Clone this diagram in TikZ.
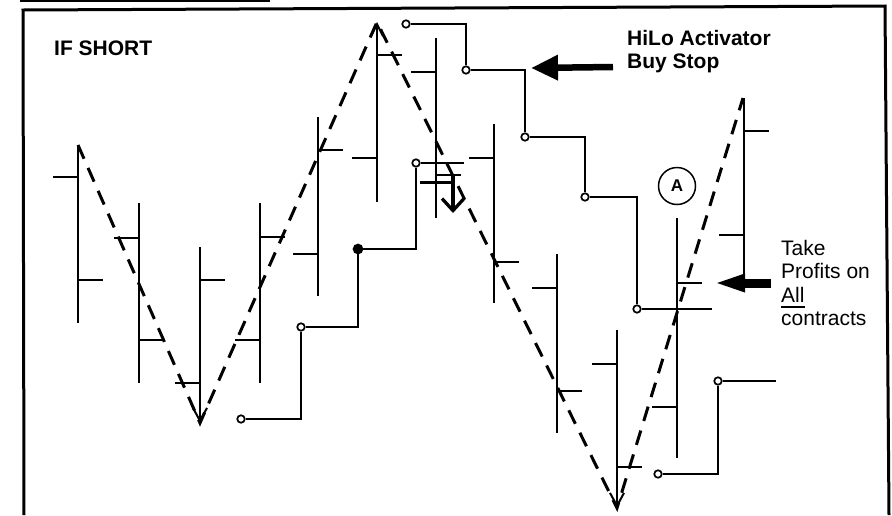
\documentclass[tikz,border=0pt]{standalone}
\usepackage{fontspec}
\setmainfont{Liberation Sans}
\usetikzlibrary{arrows.meta}
\begin{document}
\begin{tikzpicture}[x=1pt,y=-1pt,
  framel/.style={line width=3pt},
  barline/.style={line width=2pt},
  tickline/.style={line width=1.4pt},
  zz/.style={line width=3pt, dash pattern=on 15pt off 10pt},
  stairline/.style={line width=1.1pt},
  stopdot/.style={circle, draw, line width=1.7pt, fill=white, inner sep=0pt, minimum size=7.5pt},
  stopfill/.style={circle, draw, line width=1.6pt, fill=black, inner sep=0pt, minimum size=9pt},
  lbl/.style={inner sep=0pt, anchor=base west, font=\fontsize{21}{23.5}\selectfont},
  blbl/.style={lbl, font=\bfseries\fontsize{21}{23.5}\selectfont},
  downtip/.style={-{Straight Barb[length=13pt,width=14pt]}},
  uptip/.style={{Straight Barb[length=12pt,width=12pt]}-},
  notip/.style={},
  bigarrow/.style={-{Triangle[length=27pt,width=24pt]}, line width=6.5pt},
  profitarrow/.style={-{Triangle[length=32pt,width=16pt]}, line width=9pt}
]
\useasboundingbox (0,0) rectangle (892,515);
% frame
\draw[line width=1.5pt] (20,1) -- (270,1);
\draw[framel] (24,515) -- (23,10) -- (885,6) -- (889,515);

% price bars: x / top / bottom / left tick / right tick / tip
\foreach \bx/\bt/\bb/\bl/\br/\tp in {
  78/145/323/177/280/notip,
  139/203/383/238/340/notip,
  200/247/423/383/280/downtip,
  260/203/383/340/237/notip,
  318/117/296/254/150/notip,
  377/22/202/158/55/uptip,
  436/38/218/72/175/notip,
  494/124/303/158/262/notip,
  557/254/433/288/391/notip,
  617/330/508/364/467/downtip,
  677/218/458/407/283/notip,
  744/98/279/235/131/notip}{
  \draw[barline,\tp] (\bx,\bt) -- (\bx,\bb);
  \draw[tickline] (\bx-25,\bl) -- (\bx,\bl);
  \draw[tickline] (\bx,\br) -- (\bx+25,\br);
}

% dashed swing line
\draw[zz] (78,145) -- (200,423) -- (377,22) -- (617,508) -- (743,98);

% entry marker
\draw[line width=3pt] (420,182) -- (452,182);
\draw[line width=3.3pt,-{Straight Barb[length=12pt,width=22pt]}] (453,176) -- (453,213);

% HiLo buy stop (descending)
\node[stopdot] (s1) at (406,24) {};
\node[stopdot] (s2) at (466,70) {};
\node[stopdot] (s3) at (525,137) {};
\node[stopdot] (s4) at (585,197) {};
\node[stopdot] (s5) at (637,309) {};
\coordinate (s6) at (712,309);
\draw[stairline] (s1) -| (s2);
\draw[stairline] (s2) -| (s3);
\draw[stairline] (s3) -| (s4);
\draw[stairline] (s4) -| (s5);
\draw[stairline] (s5) -- (s6);

% rising stop (left)
\node[stopdot] (l1) at (241,419) {};
\node[stopdot] (l2) at (301,327) {};
\node[stopfill] (l3) at (358,249) {};
\node[stopdot] (l4) at (416,163) {};
\coordinate (l5) at (464,163);
\draw[stairline] (l1) -| (l2);
\draw[stairline] (l2) -| (l3);
\draw[stairline] (l3) -| (l4);
\draw[stairline] (l4) -- (l5);

% rising stop (right)
\node[stopdot] (r1) at (658,474) {};
\node[stopdot] (r2) at (718,381) {};
\coordinate (r3) at (776,381);
\draw[stairline] (r1) -| (r2);
\draw[stairline] (r2) -- (r3);

% labels
\node[blbl] (ifshort) at (54,55) {IF SHORT};
\node[blbl] (hilo) at (627,45) {HiLo Activator};
\node[blbl] (buystop) at (627,68) {Buy Stop};
\node[lbl] (take) at (781,255) {Take};
\node[lbl] (profits) at (781,278) {Profits on};
\node[lbl] (allc) at (781,302) {All};
\node[lbl] (contracts) at (781,325) {contracts};
\draw[line width=1.4pt] ([yshift=-5pt]allc.base west) -- ([yshift=-5pt]allc.base east);
\node[circle, draw, line width=1.5pt, minimum size=37pt, inner sep=0pt,
      font=\bfseries\fontsize{17}{17}\selectfont] (circA) at (677,186) {A};

% arrows
\coordinate (hiloTail) at (613,67);
\coordinate (hiloTip) at (531,68);
\draw[bigarrow] (hiloTail) -- (hiloTip);
\coordinate (takeTail) at (771,283);
\coordinate (takeTip) at (713,283);
\draw[profitarrow] (takeTail) -- (takeTip);
\end{tikzpicture}
\end{document}
